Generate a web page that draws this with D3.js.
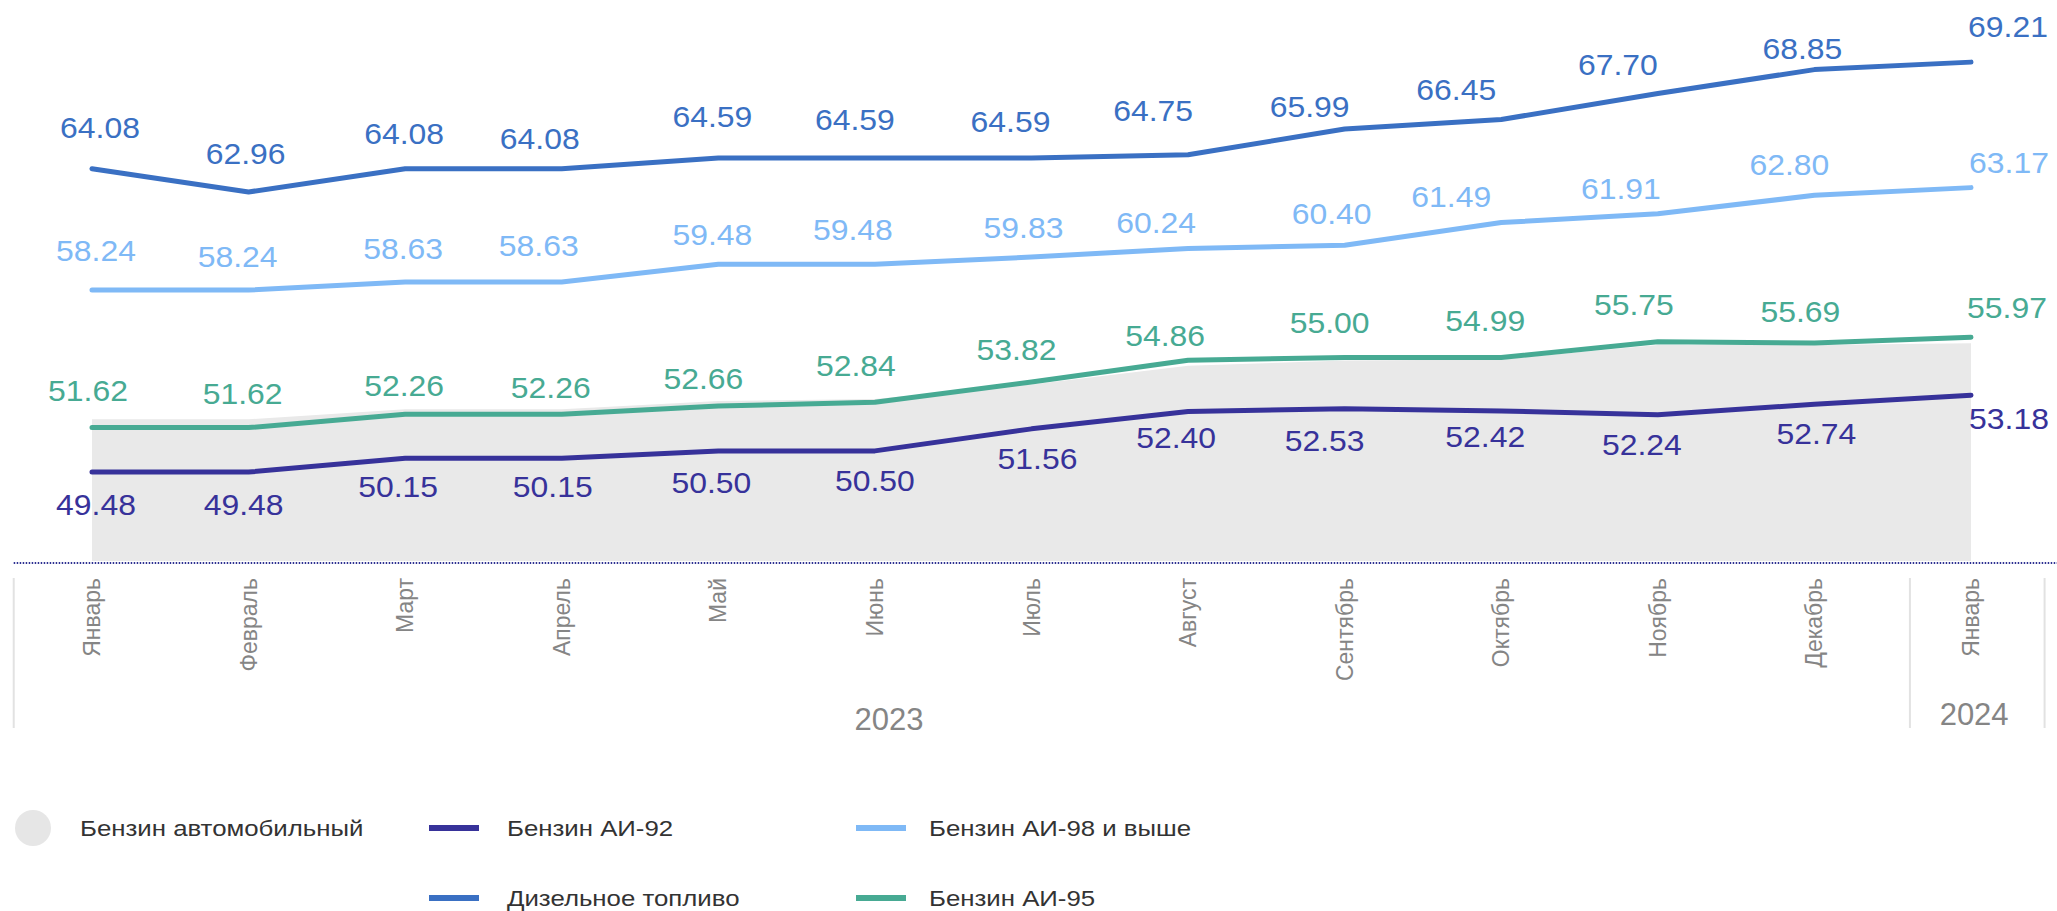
<!DOCTYPE html>
<html>
<head>
<meta charset="utf-8">
<script src="https://cdn.jsdelivr.net/npm/d3@7"></script>
<style>
  html, body { margin: 0; padding: 0; background: #fff; overflow: hidden; }
  svg { display: block; font-family: "Liberation Sans", Arial, sans-serif; }
</style>
</head>
<body>
<svg id="chart" width="2057" height="911"></svg>
<script>
// ---------- data ----------
const months = ["Январь","Февраль","Март","Апрель","Май","Июнь","Июль","Август","Сентябрь","Октябрь","Ноябрь","Декабрь","Январь"];
const years = [{label: "2023", at: 5.09}, {label: "2024", at: 12.02}];

const diesel = [64.08, 62.96, 64.08, 64.08, 64.59, 64.59, 64.59, 64.75, 65.99, 66.45, 67.70, 68.85, 69.21];
const ai98   = [58.24, 58.24, 58.63, 58.63, 59.48, 59.48, 59.83, 60.24, 60.40, 61.49, 61.91, 62.80, 63.17];
const ai95   = [51.62, 51.62, 52.26, 52.26, 52.66, 52.84, 53.82, 54.86, 55.00, 54.99, 55.75, 55.69, 55.97];
const ai92   = [49.48, 49.48, 50.15, 50.15, 50.50, 50.50, 51.56, 52.40, 52.53, 52.42, 52.24, 52.74, 53.18];
const gasolineAvg = [52.02, 52.02, 52.50, 52.50, 52.90, 53.00, 53.70, 54.60, 54.85, 54.90, 55.60, 55.60, 55.68];

// label nudges (px) relative to each point: [dx...], [dy...]
const nudgeDiesel = {dx: [8,-3,-1,-22,-6,-20,-21,-35,-35,-45,-40,-12,37], dy: [-31,-28,-25,-20,-31,-28,-26,-34,-12,-19,-19,-11,-25]};
const nudge98     = {dx: [4,-11,-2,-23,-6,-22,-8,-32,-13,-50,-37,-25,38], dy: [-29,-23,-23,-26,-19,-24,-19,-16,-21,-16,-15,-20,-15]};
const nudge95     = {dx: [-4,-6,-1,-11,-15,-19,-15,-23,-15,-16,-24,-14,36], dy: [-27,-24,-18,-16,-17,-26,-22,-14,-24,-27,-27,-21,-19]};
const nudge92     = {dx: [4,-5,-7,-9,-7,0,6,-12,-20,-16,-16,2,38], dy: [43,43,39,39,42,40,40,37,42,36,40,40,34]};

const seriesDefs = [
  {name: "Бензин АИ-92", values: ai92, color: "#37329a", nudge: nudge92},
  {name: "Бензин АИ-98 и выше", values: ai98, color: "#7fb9f6", nudge: nudge98},
  {name: "Дизельное топливо", values: diesel, color: "#3a70c3", nudge: nudgeDiesel},
  {name: "Бензин АИ-95", values: ai95, color: "#47aa93", nudge: nudge95}
];

// ---------- scales ----------
const svg = d3.select("#chart");
const x = d3.scaleLinear().domain([0, months.length - 1]).range([92, 1971]);
const y = d3.scaleLinear().domain([45.2, 72.2]).range([561, 0]);

// ---------- area ----------
const area = d3.area().x((d, i) => x(i)).y0(y(45.2)).y1(d => y(d));
svg.append("path").datum(gasolineAvg).attr("d", area).attr("fill", "#e9e9e9");

// ---------- axis baseline (dotted) ----------
svg.append("line")
  .attr("x1", x(-0.5)).attr("x2", 2057)
  .attr("y1", 563).attr("y2", 563)
  .attr("stroke", "#2e3192").attr("stroke-width", 2)
  .attr("stroke-dasharray", "1.5,1.5");

// ---------- lines ----------
const line = d3.line().x((d, i) => x(i)).y(d => y(d));
const drawOrder = [seriesDefs[0], seriesDefs[1], seriesDefs[2], seriesDefs[3]];
drawOrder.forEach(s => {
  svg.append("path").datum(s.values).attr("d", line)
    .attr("fill", "none").attr("stroke", s.color).attr("stroke-width", 5)
    .attr("stroke-linejoin", "round").attr("stroke-linecap", "round");
});

// ---------- value labels ----------
seriesDefs.forEach(s => {
  svg.append("g").selectAll("text").data(s.values).join("text")
    .attr("transform", (d, i) => `translate(${x(i) + s.nudge.dx[i]},${y(d) + s.nudge.dy[i]}) scale(1.1,1)`)
    .attr("text-anchor", "middle")
    .attr("font-size", 29)
    .attr("fill", s.color)
    .text(d => d.toFixed(2));
});

// ---------- category axis ----------
const axisG = svg.append("g");
axisG.selectAll("text.month").data(months).join("text")
  .attr("class", "month")
  .attr("transform", (d, i) => `translate(${x(i)},578) rotate(-90)`)
  .attr("text-anchor", "end")
  .attr("dy", "0.35em")
  .attr("font-size", 23)
  .attr("fill", "#858585")
  .text(d => d);

// group separators
[-0.5, 11.61, 12.47].forEach(p => {
  axisG.append("line").attr("x1", x(p)).attr("x2", x(p)).attr("y1", 578).attr("y2", 728)
    .attr("stroke", "#e2e2e2").attr("stroke-width", 2);
});

axisG.selectAll("text.year").data(years).join("text")
  .attr("class", "year")
  .attr("x", d => x(d.at)).attr("y", (d, i) => i === 0 ? 730 : 725)
  .attr("text-anchor", "middle")
  .attr("font-size", 31)
  .attr("fill", "#858585")
  .text(d => d.label);

// ---------- legend ----------
const legend = svg.append("g");
const legendItems = [
  {name: "Бензин автомобильный", type: "circle", color: "#e6e6e6", mx: 33, tx: 80, cy: 828},
  {name: seriesDefs[0].name, type: "line", color: seriesDefs[0].color, mx: 429, tx: 507, cy: 828},
  {name: seriesDefs[1].name, type: "line", color: seriesDefs[1].color, mx: 856, tx: 929, cy: 828},
  {name: seriesDefs[2].name, type: "line", color: seriesDefs[2].color, mx: 429, tx: 507, cy: 898},
  {name: seriesDefs[3].name, type: "line", color: seriesDefs[3].color, mx: 856, tx: 929, cy: 898}
];
legendItems.forEach(it => {
  if (it.type === "circle") {
    legend.append("circle").attr("cx", it.mx).attr("cy", it.cy).attr("r", 18).attr("fill", it.color);
  } else {
    legend.append("line").attr("x1", it.mx).attr("x2", it.mx + 50).attr("y1", it.cy).attr("y2", it.cy)
      .attr("stroke", it.color).attr("stroke-width", 6);
  }
  legend.append("text")
    .attr("transform", `translate(${it.tx},${it.cy + 7.5}) scale(1.2,1)`)
    .attr("font-size", 21.5)
    .attr("fill", "#333333")
    .text(it.name);
});
</script>
</body>
</html>
